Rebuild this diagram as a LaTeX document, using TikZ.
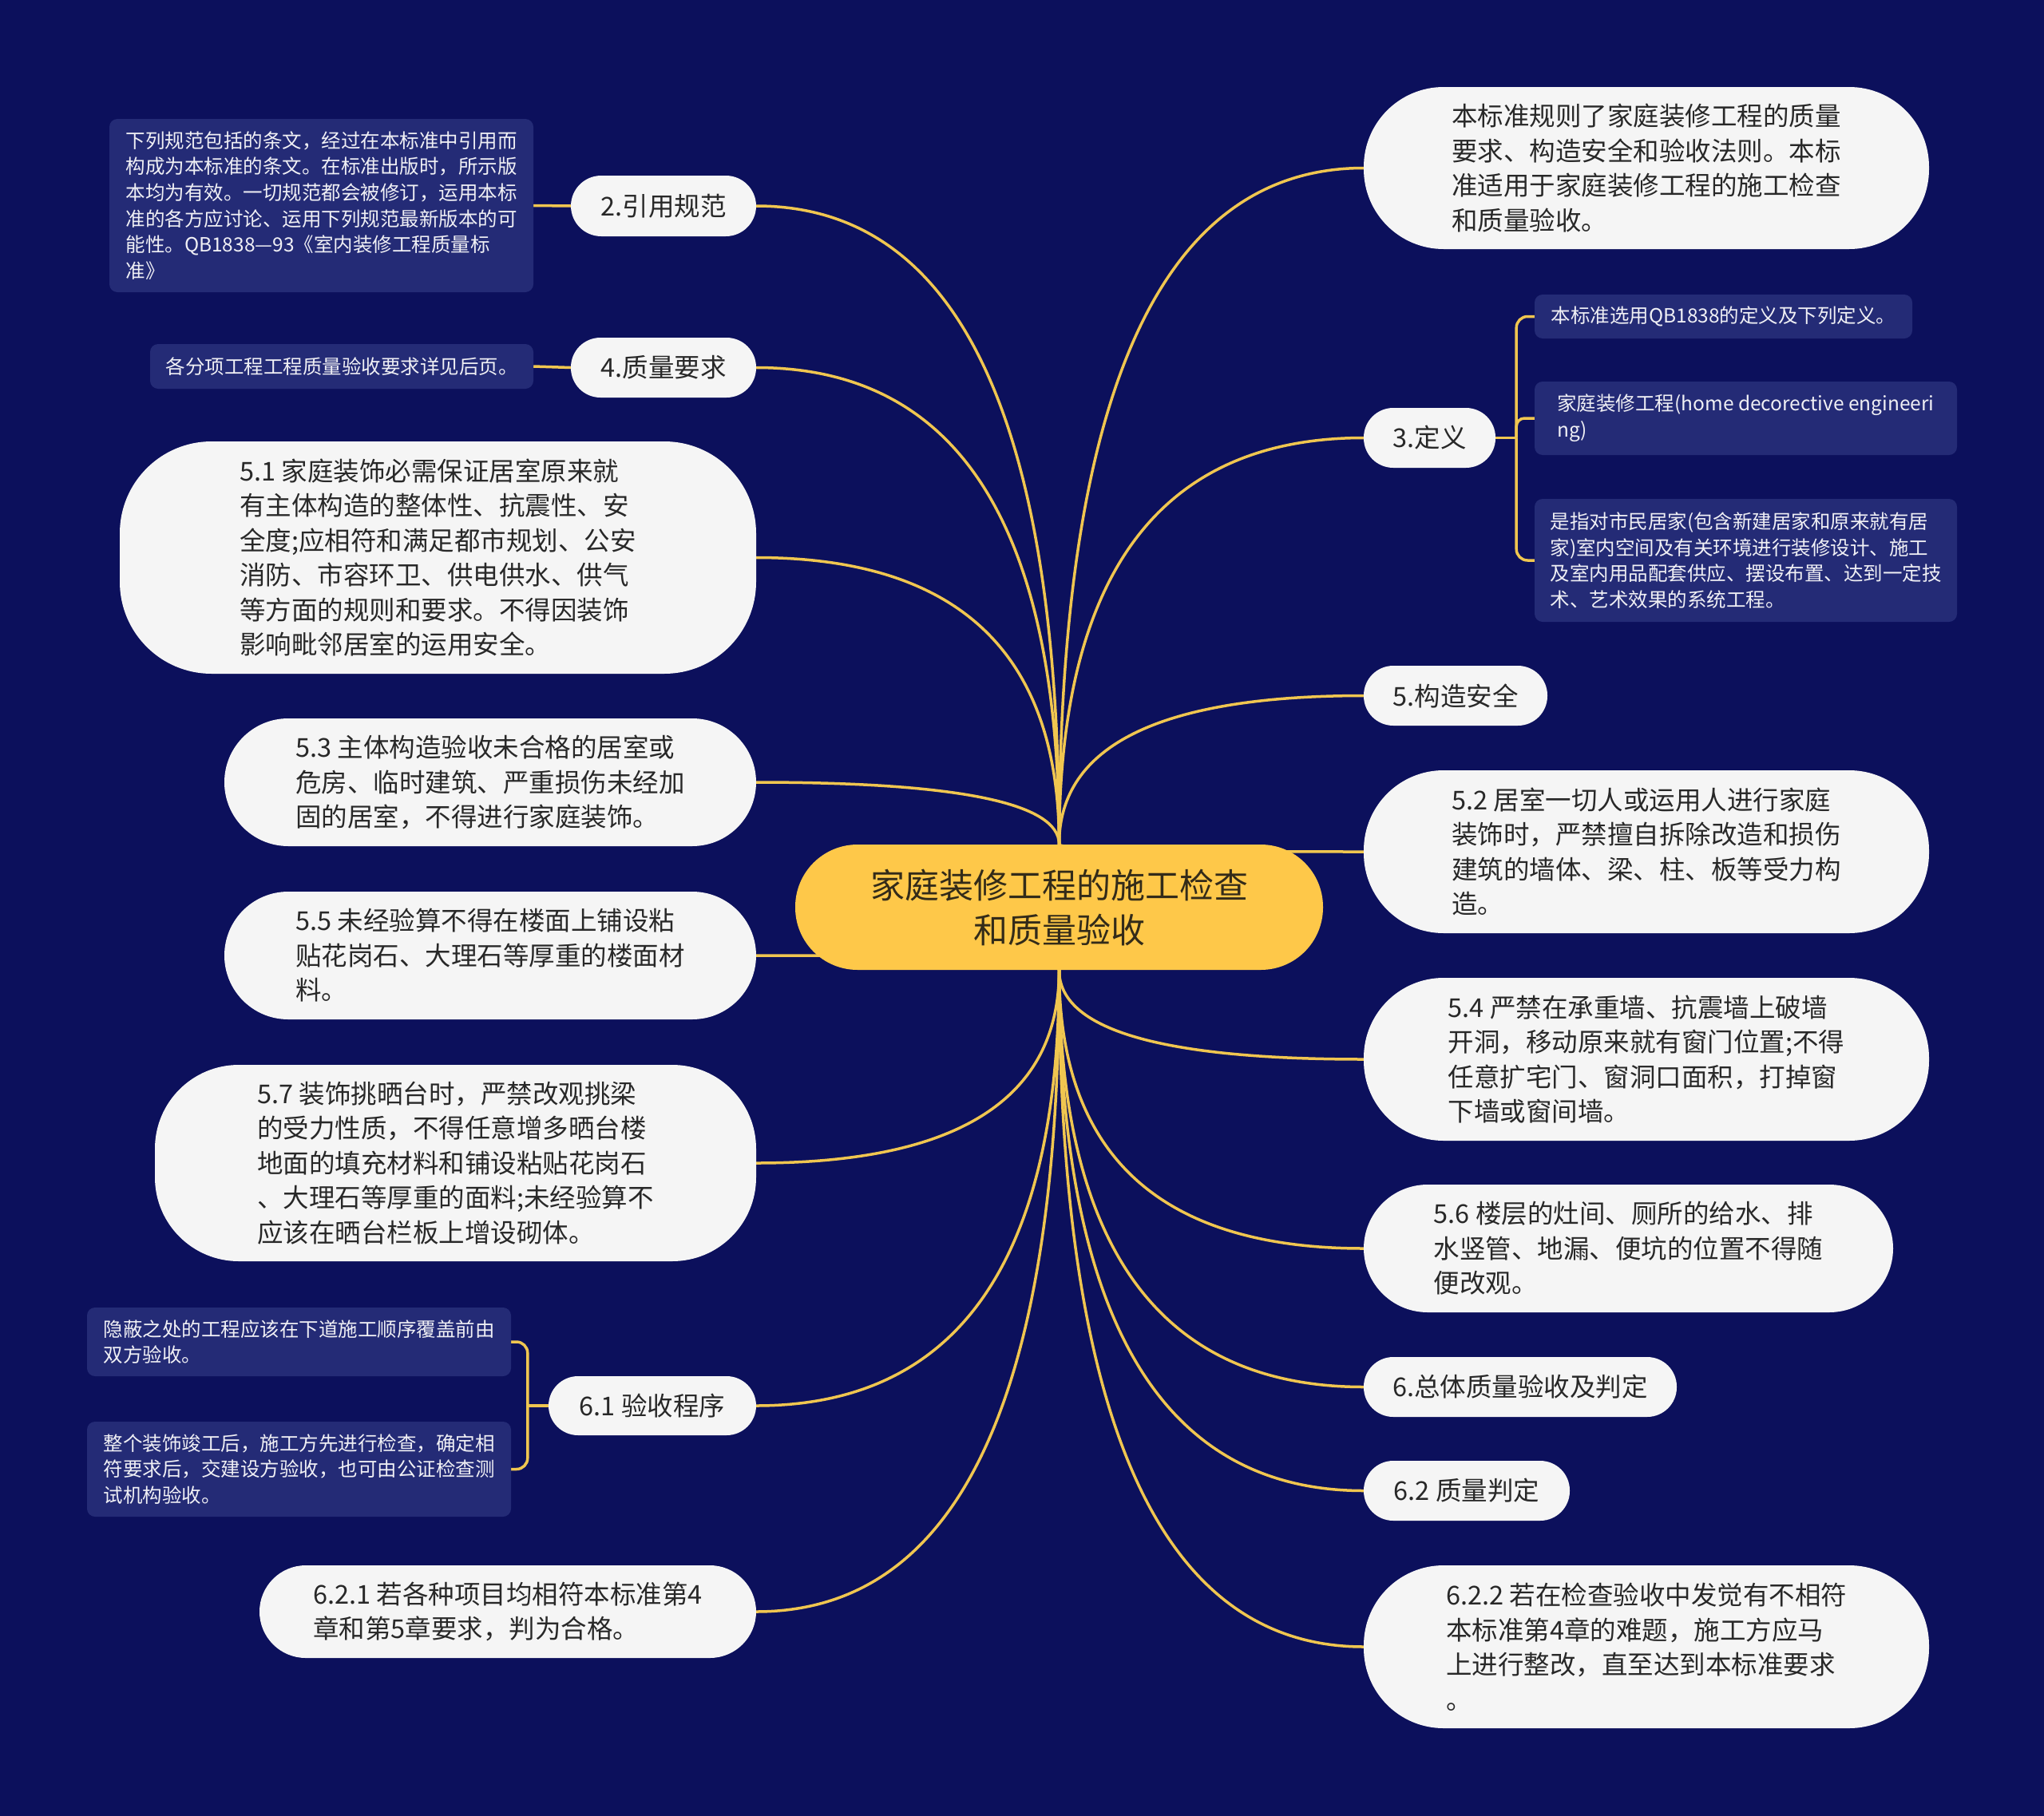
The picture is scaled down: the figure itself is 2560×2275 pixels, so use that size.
\documentclass[tikz,border=0pt]{standalone}
\usepackage{fontspec}
\setmainfont{Noto Sans CJK SC}
\usetikzlibrary{calc}
\pgfdeclarelayer{bg}
\pgfsetlayers{bg,main}
\definecolor{bgc}{RGB}{12,16,92}
\definecolor{linec}{RGB}{240,198,80}
\definecolor{rootc}{RGB}{254,200,73}
\definecolor{roottx}{RGB}{51,43,25}
\definecolor{brc}{RGB}{245,245,245}
\definecolor{brtx}{RGB}{40,40,40}
\definecolor{leafc}{RGB}{36,43,118}
\definecolor{leaftx}{RGB}{240,240,245}
\tikzset{
  rootbox/.style={fill=rootc,text=roottx,align=center,inner sep=0pt,rounded corners=78pt,
    font=\fontsize{43}{56}\selectfont,minimum width=661pt,minimum height=157pt},
  brbox/.style n args={3}{fill=brc,text=brtx,align=left,inner sep=0pt,
    font=\fontsize{32.5}{43.5}\selectfont,minimum width=#1pt,minimum height=#2pt,rounded corners=#3pt},
  leafbox/.style 2 args={fill=leafc,text=leaftx,align=left,inner sep=0pt,rounded corners=10pt,
    font=\fontsize{24.5}{32.7}\selectfont,minimum width=#1pt,minimum height=#2pt},
  conn/.style={draw=linec,line width=3.5pt},
}
\newcommand\mmlink[2]{\draw[conn] (#1) .. controls ($(#1)!0.667!(#1 |- #2)$) and ($(#2)!0.667!(#1 |- #2)$) .. (#2);}
\begin{document}
\begin{tikzpicture}[x=1pt,y=-1pt]
\useasboundingbox (0,0) rectangle (2560,2275);
% root
\node[rootbox] (C) at (1326.5,1136.5) {家庭装修工程的施工检查\\和质量验收};
% right branches
\node[brbox={708}{203}{100}] (R1) at (2062,210.5) {本标准规则了家庭装修工程的质量\\要求、构造安全和验收法则。本标\\准适用于家庭装修工程的施工检查\\和质量验收。};
\node[brbox={165}{75}{37}] (R2) at (1790.5,548.5) {3.定义};
\node[leafbox={473}{55}] (L1) at (2158.5,396.5) {本标准选用QB1838的定义及下列定义。};
\node[leafbox={529}{92}] (L2) at (2186.5,524) {家庭装修工程(home decorective engineeri\\ng)};
\node[leafbox={529}{154}] (L3) at (2186.5,702) {是指对市民居家(包含新建居家和原来就有居\\家)室内空间及有关环境进行装修设计、施工\\及室内用品配套供应、摆设布置、达到一定技\\术、艺术效果的系统工程。};
\node[brbox={230}{75}{37}] (R3) at (1823,871.5) {5.构造安全};
\node[brbox={708}{204}{100}] (R4) at (2062,1067) {5.2 居室一切人或运用人进行家庭\\装饰时，严禁擅自拆除改造和损伤\\建筑的墙体、梁、柱、板等受力构\\造。};
\node[brbox={708}{204}{100}] (R5) at (2062,1327) {5.4 严禁在承重墙、抗震墙上破墙\\开洞，移动原来就有窗门位置;不得\\任意扩宅门、窗洞口面积，打掉窗\\下墙或窗间墙。};
\node[brbox={663}{160}{80}] (R6) at (2039.5,1564) {5.6 楼层的灶间、厕所的给水、排\\水竖管、地漏、便坑的位置不得随\\便改观。};
\node[brbox={392}{75}{37}] (R7) at (1904,1737.5) {6.总体质量验收及判定};
\node[brbox={258}{75}{37}] (R8) at (1837,1867.5) {6.2 质量判定};
\node[brbox={708}{204}{100}] (R9) at (2062,2063) {6.2.2 若在检查验收中发觉有不相符\\本标准第4章的难题，施工方应马\\上进行整改，直至达到本标准要求\\。};
% left branches
\node[brbox={232}{76}{38}] (B1) at (831,258) {2.引用规范};
\node[leafbox={531}{217}] (LB1) at (402.5,257.5) {下列规范包括的条文，经过在本标准中引用而\\构成为本标准的条文。在标准出版时，所示版\\本均为有效。一切规范都会被修订，运用本标\\准的各方应讨论、运用下列规范最新版本的可\\能性。QB1838—93《室内装修工程质量标\\准》};
\node[brbox={232}{75}{37}] (B2) at (831,460.5) {4.质量要求};
\node[leafbox={480}{56}] (LB2) at (428,459) {各分项工程工程质量验收要求详见后页。};
\node[brbox={797}{291}{115}] (B3) at (548.5,698.5) {5.1 家庭装饰必需保证居室原来就\\有主体构造的整体性、抗震性、安\\全度;应相符和满足都市规划、公安\\消防、市容环卫、供电供水、供气\\等方面的规则和要求。不得因装饰\\影响毗邻居室的运用安全。};
\node[brbox={666}{160}{80}] (B4) at (614,980) {5.3 主体构造验收未合格的居室或\\危房、临时建筑、严重损伤未经加\\固的居室，不得进行家庭装饰。};
\node[brbox={666}{160}{80}] (B5) at (614,1197) {5.5 未经验算不得在楼面上铺设粘\\贴花岗石、大理石等厚重的楼面材\\料。};
\node[brbox={753}{246}{105}] (B6) at (570.5,1457) {5.7 装饰挑晒台时，严禁改观挑梁\\的受力性质，不得任意增多晒台楼\\地面的填充材料和铺设粘贴花岗石\\、大理石等厚重的面料;未经验算不\\应该在晒台栏板上增设砌体。};
\node[brbox={260}{74}{37}] (B7) at (817,1761) {6.1 验收程序};
\node[leafbox={531}{86}] (LB7a) at (374.5,1681) {隐蔽之处的工程应该在下道施工顺序覆盖前由\\双方验收。};
\node[leafbox={531}{119}] (LB7b) at (374.5,1840.5) {整个装饰竣工后，施工方先进行检查，确定相\\符要求后，交建设方验收，也可由公证检查测\\试机构验收。};
\node[brbox={622}{116}{58}] (B8) at (636,2019) {6.2.1 若各种项目均相符本标准第4\\章和第5章要求，判为合格。};
\coordinate (J3) at ($(R2.east)+(26,0)$);
\coordinate (J6) at ($(B7.west)+(-26,0)$);
\begin{pgfonlayer}{bg}
\fill[bgc] (0,0) rectangle (2560,2275);
\mmlink{C.north}{R1.west}
\mmlink{C.north}{R2.west}
\mmlink{C.north}{R3.west}
\mmlink{C.north}{R4.west}
\mmlink{C.south}{R5.west}
\mmlink{C.south}{R6.west}
\mmlink{C.south}{R7.west}
\mmlink{C.south}{R8.west}
\mmlink{C.south}{R9.west}
\mmlink{C.north}{B1.east}
\mmlink{C.north}{B2.east}
\mmlink{C.north}{B3.east}
\mmlink{C.north}{B4.east}
\mmlink{C.south}{B5.east}
\mmlink{C.south}{B6.east}
\mmlink{C.south}{B7.east}
\mmlink{C.south}{B8.east}
\draw[conn] (LB1.east) -- (B1.west);
\draw[conn] (LB2.east) -- (B2.west);
\draw[conn] (R2.east) -- (J3);
\draw[conn,rounded corners=14pt] (J3) |- (L1.west);
\draw[conn,rounded corners=10pt] (J3) |- (L2.west);
\draw[conn,rounded corners=14pt] (J3) |- (L3.west);
\draw[conn] (B7.west) -- (J6);
\draw[conn,rounded corners=14pt] (J6) |- (LB7a.east);
\draw[conn,rounded corners=14pt] (J6) |- (LB7b.east);
\end{pgfonlayer}
\end{tikzpicture}
\end{document}
